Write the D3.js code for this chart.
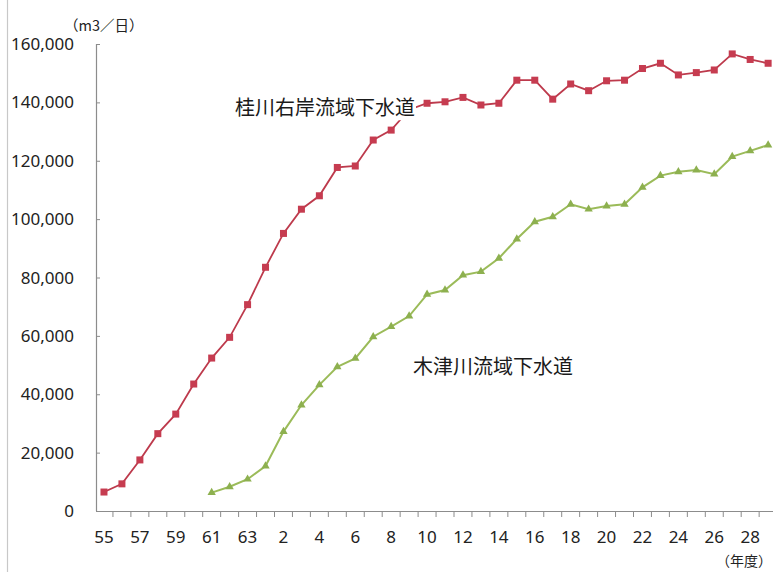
<!DOCTYPE html>
<html>
<head>
<meta charset="utf-8">
<script src="https://cdn.jsdelivr.net/npm/d3@7/dist/d3.min.js"></script>
<style>
  html, body { margin: 0; padding: 0; background: #fff; }
  svg { display: block; }
</style>
</head>
<body>
<svg id="chart" width="773" height="572"></svg>
<script>
// Fiscal years: Showa 55–63, then Heisei 1–29
const categories = ["55","56","57","58","59","60","61","62","63",
  "1","2","3","4","5","6","7","8","9","10","11","12","13","14","15","16","17","18","19",
  "20","21","22","23","24","25","26","27","28","29"];
const tickLabels = ["55","57","59","61","63","2","4","6","8","10","12","14","16","18","20","22","24","26","28"];
const yTicks = [0, 20000, 40000, 60000, 80000, 100000, 120000, 140000, 160000];

// 桂川右岸流域下水道 (from S55)
const katsuraValues = [6500, 9300, 17500, 26500, 33200, 43500, 52400, 59500, 70700,
  83500, 95100, 103400, 108000, 117700, 118200, 127100, 130500, 137500, 139700, 140200,
  141700, 139100, 139700, 147600, 147600, 141100, 146300, 144000, 147400, 147600,
  151600, 153400, 149400, 150200, 151100, 156600, 154700, 153400];
// 木津川流域下水道 (from S61)
const kizuCategories = categories.slice(6);
const kizuValues = [6300, 8300, 10900, 15400, 27200, 36300, 43200, 49400, 52300, 59700,
  63200, 66800, 74200, 75700, 80800, 82000, 86600, 93200, 99100, 100800, 105100, 103400,
  104500, 105100, 110900, 114900, 116200, 116800, 115400, 121400, 123400, 125400];

const svg = d3.select("#chart");
const W = 773, H = 572;
const x0 = 95, step = 17.95;
const x = d3.scaleBand().domain(categories).range([x0, x0 + step * categories.length]).padding(0);
const y = d3.scaleLinear().domain([0, 160000]).range([511, 44]);
const numFont = "'Noto Sans', 'Open Sans', sans-serif";
const cjkFont = "'Noto Sans CJK JP', sans-serif";
const textColor = "#222";

// left frame border
svg.append("line").attr("x1", 7.5).attr("x2", 7.5).attr("y1", 0).attr("y2", H)
  .attr("stroke", "#c8c8c8").attr("stroke-width", 1.2);

// Y axis
const yAxis = svg.append("g").attr("transform", `translate(96,0)`);
yAxis.append("line").attr("x1", 0.5).attr("x2", 0.5).attr("y1", y(160000)).attr("y2", y(0))
  .attr("stroke", "#8c8c8c").attr("stroke-width", 1.2);
yAxis.selectAll("line.tick").data(yTicks).join("line").attr("class", "tick")
  .attr("x1", 0).attr("x2", 4).attr("y1", d => y(d) + 0.5).attr("y2", d => y(d) + 0.5)
  .attr("stroke", "#8c8c8c").attr("stroke-width", 1);
svg.append("g").selectAll("text").data(yTicks).join("text")
  .attr("x", 74).attr("y", d => y(d)).attr("dy", "0.36em")
  .attr("text-anchor", "end").attr("font-family", numFont).attr("font-size", 17)
  .attr("fill", textColor).text(d => d3.format(",")(d));

// X axis
const xAxis = svg.append("g");
xAxis.append("line").attr("x1", 96).attr("x2", W).attr("y1", 511.5).attr("y2", 511.5)
  .attr("stroke", "#8c8c8c").attr("stroke-width", 1.2);
const boundaries = categories.map(c => x(c)).concat([x(categories[categories.length-1]) + x.bandwidth()]);
xAxis.selectAll("line.tick").data(boundaries.slice(1)).join("line").attr("class", "tick")
  .attr("x1", d => d).attr("x2", d => d).attr("y1", 511).attr("y2", 517)
  .attr("stroke", "#8c8c8c").attr("stroke-width", 1);
xAxis.selectAll("text").data(tickLabels).join("text")
  .attr("x", d => x(d) + x.bandwidth() / 2).attr("y", 537).attr("dy", "0.36em")
  .attr("text-anchor", "middle").attr("font-family", numFont).attr("font-size", 17)
  .attr("fill", textColor).text(d => d);

// units
svg.append("text").attr("x", 64).attr("y", 26).attr("dy", "0.36em")
  .attr("font-family", cjkFont).attr("font-size", 14.5).attr("fill", textColor).text("（m3／日）");
svg.append("text").attr("x", 772).attr("y", 561).attr("dy", "0.36em").attr("text-anchor", "end")
  .attr("font-family", cjkFont).attr("font-size", 14).attr("fill", textColor).text("（年度）");

const cx = c => x(c) + x.bandwidth() / 2;

// Kizu (green)
const kizuData = kizuCategories.map((c, i) => ({c, v: kizuValues[i]}));
svg.append("path").datum(kizuData)
  .attr("d", d3.line().x(d => cx(d.c)).y(d => y(d.v)))
  .attr("fill", "none").attr("stroke", "#9bbb59").attr("stroke-width", 2);
svg.append("g").selectAll("path").data(kizuData).join("path")
  .attr("transform", d => `translate(${cx(d.c)},${y(d.v)})`)
  .attr("d", d3.symbol(d3.symbolTriangle, 30))
  .attr("fill", "#8db04f");

// Katsura (red)
const katsuraData = categories.map((c, i) => ({c, v: katsuraValues[i]}));
svg.append("path").datum(katsuraData)
  .attr("d", d3.line().x(d => cx(d.c)).y(d => y(d.v)))
  .attr("fill", "none").attr("stroke", "#bd3a4c").attr("stroke-width", 1.8);
svg.append("g").selectAll("rect").data(katsuraData).join("rect")
  .attr("x", d => cx(d.c) - 3.5).attr("y", d => y(d.v) - 3.5)
  .attr("width", 7).attr("height", 7).attr("fill", "#c63c50");

// Labels
function label(text, xPos, yPos) {
  const t = svg.append("text").attr("x", xPos).attr("y", yPos).attr("dy", "0.36em")
    .attr("font-family", cjkFont).attr("font-size", 20)
    .attr("fill", "#1a1a1a").text(text);
  const b = t.node().getBBox();
  svg.insert("rect", () => t.node()).attr("x", b.x - 1).attr("y", b.y + 1)
    .attr("width", b.width + 2).attr("height", b.height - 2).attr("fill", "#fff");
}
label("桂川右岸流域下水道", 235, 108);
label("木津川流域下水道", 413, 367);
</script>
</body>
</html>
